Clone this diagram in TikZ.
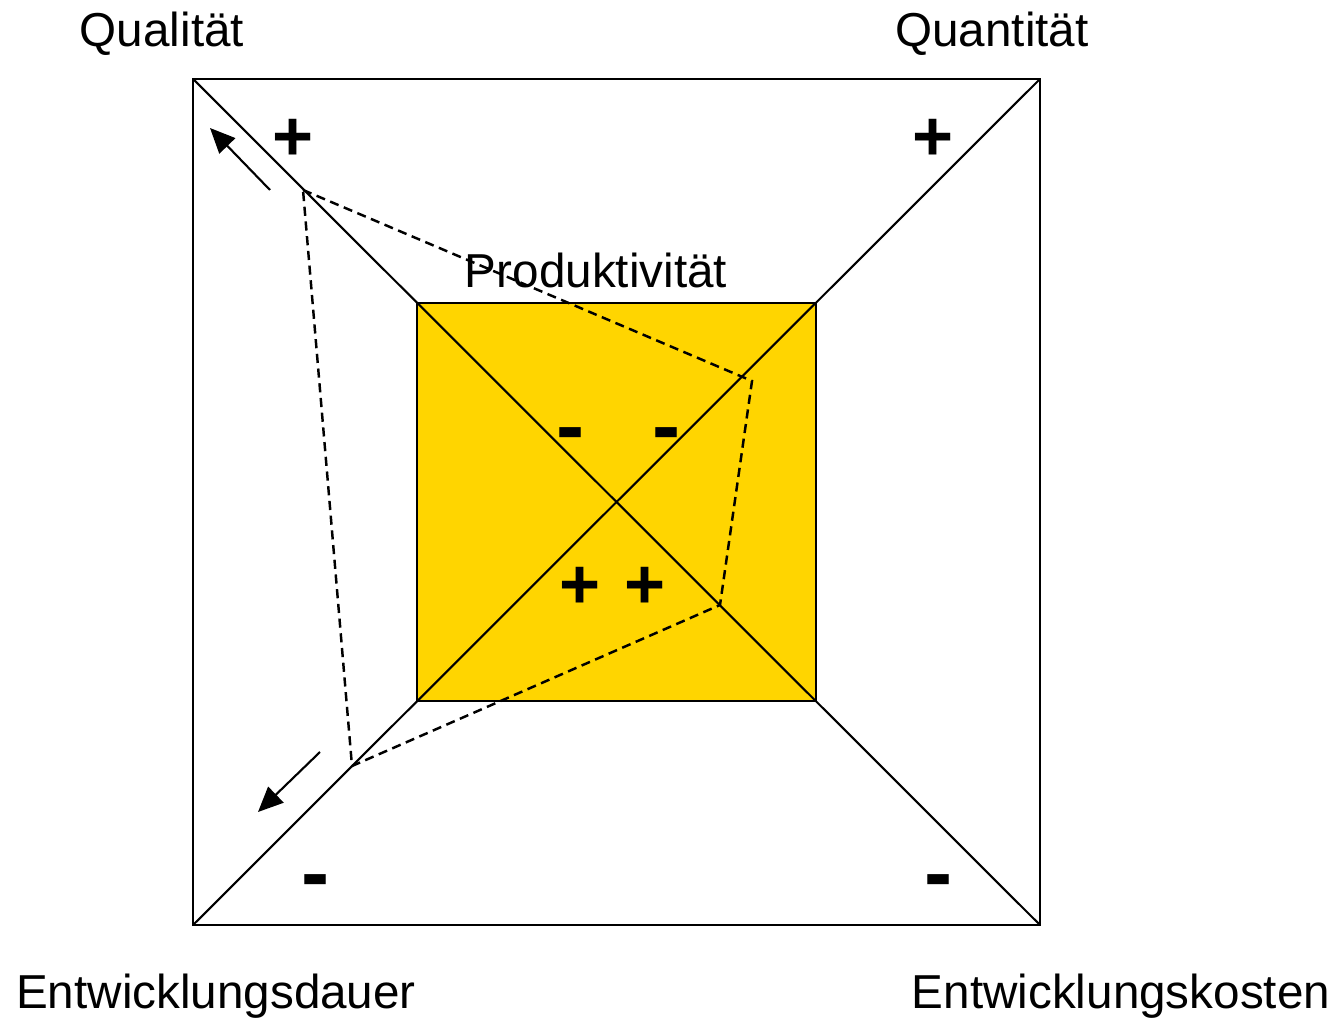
\documentclass[tikz,border=0pt]{standalone}
\usepackage{fontspec}
\setmainfont{Liberation Sans}
\usetikzlibrary{arrows.meta}
\definecolor{gold}{RGB}{255,213,0}
\begin{document}
\begin{tikzpicture}[line width=0.6pt,
  lbl/.style={anchor=base,inner sep=0pt,font=\fontsize{13.55}{16}\selectfont},
  sgn/.style={inner sep=0pt,font=\fontsize{20}{24}\selectfont\bfseries},
  msgn/.style={inner sep=0pt,font=\fontsize{24}{28}\selectfont\bfseries},
  pfeil/.style={-{Triangle[length=2.5mm,width=2.2mm]}},
  polyline/.style={line width=0.7pt,dash pattern=on 2.6pt off 1.6pt}]
\useasboundingbox (0,0) rectangle (13.37,10.19);
% quadrate
\coordinate (OL) at (1.93,9.40); \coordinate (OR) at (10.40,9.40);
\coordinate (UL) at (1.93,0.94); \coordinate (UR) at (10.40,0.94);
\coordinate (iOL) at (4.17,7.16); \coordinate (iOR) at (8.16,7.16);
\coordinate (iUL) at (4.17,3.18); \coordinate (iUR) at (8.16,3.18);
\draw (OL) rectangle (UR);
\draw[fill=gold] (iUL) rectangle (iOR);
\draw (OL)--(UR) (OR)--(UL);
% texte
\node[lbl] (qual) at (1.62,9.72) {Qualität};
\node[lbl] (quant) at (9.92,9.72) {Quantität};
\node[lbl] (dauer) at (2.16,0.11) {Entwicklungsdauer};
\node[lbl] (kosten) at (11.21,0.11) {Entwicklungskosten};
% vorzeichen
\node[sgn] (p1) at (2.93,8.79) {+}; \node[sgn] (p2) at (9.33,8.79) {+};
\node[msgn] (m1) at (3.16,1.31) {-}; \node[msgn] (m2) at (9.39,1.31) {-};
\node[msgn] (m3) at (5.71,5.78) {-}; \node[msgn] (m4) at (6.67,5.78) {-};
\node[sgn] (p3) at (5.80,4.31) {+}; \node[sgn] (p4) at (6.45,4.31) {+};
% profil
\coordinate (A) at (3.03,8.29); \coordinate (B) at (7.52,6.38);
\coordinate (C) at (7.20,4.14); \coordinate (D) at (3.52,2.53);
\draw[polyline] (A)--(B)--(C)--(D)--cycle;
\node[lbl] (prod) at (5.96,7.31) {Produktivität};
% pfeile
\coordinate (a1) at (2.70,8.29); \coordinate (a2) at (2.10,8.91);
\coordinate (b1) at (3.20,2.67); \coordinate (b2) at (2.58,2.07);
\draw[pfeil] (a1)--(a2);
\draw[pfeil] (b1)--(b2);
\end{tikzpicture}
\end{document}
